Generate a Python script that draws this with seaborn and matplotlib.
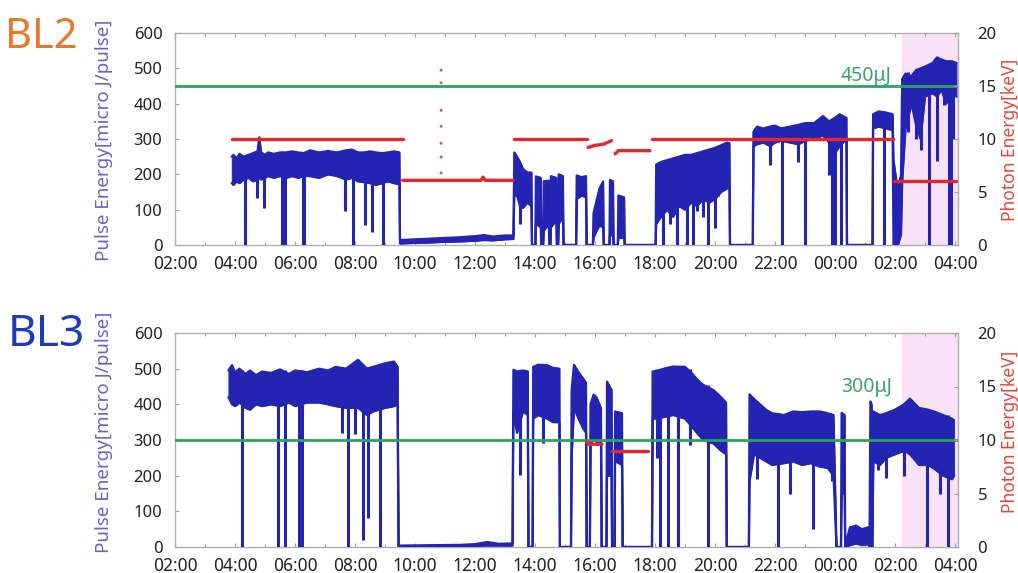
import numpy as np
import pandas as pd
import matplotlib
matplotlib.use("Agg")
import matplotlib.pyplot as plt
from matplotlib.ticker import MultipleLocator
import seaborn as sns

# ---------------- data ----------------
hour_ticks = [2, 4, 6, 8, 10, 12, 14, 16, 18, 20, 22, 24, 26, 28]
hour_labels = ["02:00", "04:00", "06:00", "08:00", "10:00", "12:00", "14:00",
               "16:00", "18:00", "20:00", "22:00", "00:00", "02:00", "04:00"]
pulse_ticks = [0, 100, 200, 300, 400, 500, 600]
photon_ticks = [0, 5, 10, 15, 20]

panel_names = ["BL2", "BL3"]
target_uj = [450, 300]
target_labels = ["450μJ", "300μJ"]
highlight_start = 26.22  # hours since 00:00 of day 1 (~02:13 next day)

# BL2 pulse energy: time [h], lower / upper edge of the noisy trace [uJ]
bl2_t = [3.89, 3.95, 4.05, 4.15, 4.28, 4.45, 4.60, 4.75, 4.81, 4.87, 5.00, 5.10, 5.30, 5.50, 5.70, 5.90,
         6.10, 6.30, 6.50, 6.80, 7.10, 7.40, 7.70, 7.90, 8.10, 8.30, 8.50, 8.70, 8.90, 9.10, 9.30, 9.48,
         9.50, 10.0, 10.5, 11.0, 11.5, 12.0, 12.3, 12.6, 13.0, 13.28,
         13.31, 13.40, 13.50, 13.60, 13.75, 13.88, 13.90, 14.01, 14.03, 14.19, 14.21, 14.27, 14.29, 14.46,
         14.48, 14.51, 14.53, 14.71, 14.73, 14.77, 14.79, 14.93, 14.95, 15.37, 15.39, 15.55, 15.70, 15.72,
         15.93, 15.95, 16.05, 16.15, 16.27, 16.29, 16.48, 16.50, 16.60, 16.62, 16.76, 16.78, 16.97, 16.99,
         18.02, 18.04, 18.20, 18.40, 18.60, 18.80, 19.00, 19.20, 19.40, 19.60, 19.80, 20.00, 20.20, 20.40,
         20.48, 20.50,
         21.26, 21.28, 21.40, 21.60, 21.84, 22.00, 22.20, 22.50, 22.78, 23.00, 23.30, 23.60, 23.80, 24.00,
         24.15, 24.38, 24.40,
         25.25, 25.27, 25.45, 25.70, 25.92, 25.95, 26.10, 26.20, 26.24, 26.35, 26.55, 26.70, 26.85, 27.00,
         27.25, 27.40, 27.55, 27.70, 27.90, 28.05]
bl2_lo = [175, 170, 180, 175, 185, 190, 180, 185, 190, 185, 190, 195, 190, 195, 190, 195,
          190, 195, 195, 190, 200, 195, 185, 190, 180, 178, 175, 170, 175, 180, 175, 172,
          4, 6, 7, 9, 10, 12, 14, 13, 16, 17,
          140, 140, 110, 105, 120, 110, 0, 0, 60, 50, 0, 0, 40, 60,
          0, 0, 50, 70, 0, 0, 60, 80, 0, 0, 130, 140, 135, 0,
          0, 20, 40, 55, 50, 0, 0, 30, 25, 0, 0, 20, 20, 0,
          0, 60, 80, 100, 80, 110, 100, 120, 110, 130, 120, 130, 150, 160,
          170, 0,
          0, 280, 285, 290, 280, 290, 295, 290, 285, 295, 300, 310, 290, 260,
          280, 300, 0,
          0, 330, 335, 330, 325, 0, 0, 30, 180, 330, 400, 340, 300, 420,
          430, 420, 440, 400, 430, 420]
bl2_hi = [250, 255, 245, 258, 250, 255, 260, 265, 305, 262, 255, 262, 258, 262, 262, 265,
          262, 260, 268, 262, 266, 262, 268, 270, 262, 262, 265, 262, 260, 262, 265, 262,
          14, 16, 18, 20, 22, 25, 28, 24, 27, 27,
          262, 250, 235, 215, 205, 205, 0, 0, 194, 190, 0, 0, 180, 182,
          0, 0, 195, 190, 0, 0, 200, 195, 0, 0, 197, 192, 195, 0,
          0, 90, 125, 160, 180, 0, 0, 184, 180, 0, 0, 140, 135, 0,
          0, 228, 235, 240, 245, 250, 255, 255, 260, 265, 270, 275, 282, 290,
          288, 0,
          0, 320, 335, 330, 335, 338, 330, 335, 340, 345, 345, 365, 350, 360,
          370, 360, 0,
          0, 370, 378, 375, 370, 240, 150, 200, 470, 485, 478, 495, 500, 505,
          515, 531, 525, 520, 520, 515]
# BL2 short drops of the trace: time, bottom, top [uJ]
bl2_dip_t = [4.33, 4.72, 4.98, 5.56, 5.60, 5.65, 6.28, 6.31, 7.67, 7.92, 8.33, 8.56, 8.94, 13.50,
             18.28, 18.50, 18.72, 19.05, 19.28, 19.40, 19.60, 19.78, 20.00, 20.10, 21.84, 22.22,
             22.78, 23.00, 23.80, 23.89, 24.00, 24.20, 25.62, 26.30, 26.45, 26.70, 26.85, 27.12,
             27.40, 27.65, 27.80, 27.85, 27.95]
bl2_dip_lo = [0, 133, 105, 0, 0, 0, 0, 0, 95, 0, 57, 38, 0, 60,
              0, 60, 0, 0, 0, 95, 80, 0, 48, 140, 227, 0,
              235, 0, 199, 0, 0, 0, 0, 331, 320, 300, 270, 0,
              237, 397, 0, 0, 300]
bl2_dip_hi = [250, 240, 240, 260, 260, 258, 260, 258, 250, 270, 250, 250, 262, 230,
              235, 240, 245, 255, 255, 255, 265, 265, 270, 275, 330, 335,
              340, 345, 350, 350, 360, 370, 375, 480, 490, 495, 500, 505,
              530, 520, 520, 520, 515]
# BL2 photon energy [keV], split in segments
bl2_red_seg = [0, 0, 1, 1, 1, 1, 1, 2, 2, 3, 3, 3, 3, 4, 4, 4, 5, 5, 6, 6]
bl2_red_t = [3.89, 9.59, 9.59, 12.20, 12.27, 12.34, 13.27, 13.30, 15.73, 15.77, 16.00, 16.28, 16.55,
             16.67, 16.78, 17.83, 17.89, 25.93, 25.97, 28.05]
bl2_red_kev = [10, 10, 6.1, 6.1, 6.4, 6.1, 6.1, 10, 10, 9.2, 9.4, 9.5, 9.85,
               8.6, 8.9, 8.9, 10, 10, 6.05, 6.05]
bl2_dot_t = [10.87, 10.87, 10.87, 10.87, 10.87, 10.87, 10.87]
bl2_dot_kev = [16.5, 15.3, 12.7, 11.2, 9.6, 8.3, 6.8]

# BL3 pulse energy
bl3_t = [3.78, 3.90, 4.00, 4.15, 4.35, 4.50, 4.70, 4.90, 5.20, 5.50, 5.80, 6.00, 6.40, 6.80, 7.10, 7.35,
         7.70, 8.10, 8.40, 8.60, 9.00, 9.30, 9.42,
         9.45, 10.5, 11.5, 12.0, 12.4, 12.8, 13.25,
         13.28, 13.40, 13.60, 13.76, 13.78, 13.92, 13.94, 14.10, 14.40, 14.60, 14.81, 14.83, 15.20, 15.22,
         15.30, 15.45, 15.60, 15.70, 15.72, 15.83, 15.85, 15.95, 16.05, 16.20, 16.22, 16.38, 16.40, 16.55,
         16.57, 16.65, 16.67, 16.90, 16.92,
         17.90, 17.92, 18.10, 18.30, 18.60, 19.00, 19.20, 19.40, 19.60, 19.95, 20.20, 20.37, 20.39,
         21.13, 21.15, 21.30, 21.50, 21.70, 21.90, 22.30, 22.60, 22.90, 23.20, 23.50, 23.75, 23.95, 24.05,
         24.20, 24.22, 24.32, 24.34, 24.50, 24.70, 24.90, 25.10, 25.15, 25.18, 25.22, 25.24,
         25.28, 25.50, 25.70, 26.00, 26.30, 26.50, 26.80, 27.10, 27.30, 27.60, 27.90, 27.97]
bl3_lo = [420, 400, 395, 405, 390, 385, 400, 395, 400, 395, 405, 395, 405, 405, 400, 395,
          390, 390, 370, 380, 390, 395, 400,
          0, 1, 2, 3, 4, 4, 4,
          380, 320, 380, 370, 0, 0, 360, 370, 360, 350, 350, 0, 0, 250,
          390, 360, 333, 320, 0, 0, 290, 300, 295, 287, 0, 0, 200, 200,
          0, 0, 241, 230, 0,
          0, 360, 360, 365, 370, 360, 340, 320, 300, 290, 270, 260, 0,
          0, 184, 260, 250, 240, 230, 235, 240, 230, 235, 225, 222, 200, 0,
          0, 150, 150, 0, 5, 10, 5, 8, 0, 0, 0, 0,
          240, 230, 250, 260, 270, 260, 230, 230, 220, 200, 190, 200]
bl3_hi = [495, 510, 490, 500, 485, 495, 482, 492, 488, 498, 485, 495, 490, 500, 495, 505,
          500, 525, 500, 505, 515, 520, 505,
          4, 5, 6, 8, 14, 9, 10,
          497, 492, 495, 492, 0, 0, 505, 511, 510, 502, 500, 0, 0, 440,
          511, 490, 473, 460, 0, 0, 400, 427, 420, 389, 0, 0, 464, 440,
          0, 0, 380, 375, 0,
          0, 492, 495, 500, 506, 505, 490, 470, 455, 440, 420, 405, 0,
          0, 428, 415, 400, 385, 375, 370, 380, 378, 380, 380, 375, 370, 0,
          0, 376, 370, 5, 55, 60, 50, 55, 5, 408, 400, 0,
          380, 370, 375, 385, 400, 416, 390, 385, 380, 370, 360, 355]
bl3_dip_t = [4.22, 5.44, 5.67, 6.12, 6.17, 6.22, 7.56, 7.78, 8.00, 8.26, 8.44, 8.83, 13.50, 14.28,
             18.06, 18.17, 18.44, 18.78, 19.17, 19.78, 21.40, 22.10, 22.50, 23.28, 23.90, 25.45,
             25.70, 26.30, 27.06, 27.50, 27.78]
bl3_dip_lo = [0, 0, 0, 0, 0, 0, 321, 0, 317, 20, 80, 0, 202, 292,
              249, 0, 0, 0, 287, 0, 190, 0, 150, 50, 184, 217,
              194, 200, 0, 150, 0]
bl3_dip_hi = [495, 495, 495, 495, 495, 495, 505, 505, 508, 510, 505, 505, 495, 505,
              495, 495, 500, 506, 500, 455, 410, 375, 375, 378, 370, 370,
              375, 400, 385, 375, 370]
bl3_red_seg = [0, 0, 0, 1, 1]
bl3_red_t = [15.73, 15.78, 16.23, 16.57, 17.77]
bl3_red_kev = [9.85, 9.6, 9.6, 9.0, 9.0]
bl3_dot_t = []
bl3_dot_kev = []

# ---------------- style ----------------
BLUE = "#2424b2"
RED = "#e8262a"
GREEN = "#2aa55a"
PINK = "#f9e2f7"
SPINE = "#b0b0b0"
TICK_TXT = "#222222"

sns.set_theme(style="white")
plt.rcParams["font.family"] = ["Noto Sans", "DejaVu Sans"]

W, H = 1018, 573
fig = plt.figure(figsize=(W / 100, H / 100), dpi=100)

XMIN, XMAX = 2.0, 28.1
panels = [
    dict(box=(175, 33, 958, 245), t=bl2_t, lo=bl2_lo, hi=bl2_hi,
         dt=bl2_dip_t, dlo=bl2_dip_lo, dhi=bl2_dip_hi,
         rs=bl2_red_seg, rt=bl2_red_t, rk=bl2_red_kev, pt=bl2_dot_t, pk=bl2_dot_kev,
         name_xy=(5, 37), name_color="#e8782a", name_size=30,
         lab_y=140, txt_y=478),
    dict(box=(175, 333, 958, 547), t=bl3_t, lo=bl3_lo, hi=bl3_hi,
         dt=bl3_dip_t, dlo=bl3_dip_lo, dhi=bl3_dip_hi,
         rs=bl3_red_seg, rt=bl3_red_t, rk=bl3_red_kev, pt=bl3_dot_t, pk=bl3_dot_kev,
         name_xy=(8, 335), name_color="#2038c0", name_size=32,
         lab_y=432, txt_y=448),
]

for i, p in enumerate(panels):
    x0, y0, x1, y1 = p["box"]
    ax = fig.add_axes([x0 / W, 1 - y1 / H, (x1 - x0) / W, (y1 - y0) / H])
    ax.set_xlim(XMIN, XMAX)
    ax.set_ylim(0, 600)
    ax.axvspan(highlight_start, XMAX, color=PINK, lw=0, zorder=0)

    band = pd.DataFrame({"t": p["t"], "lo": p["lo"], "hi": p["hi"]})
    ax.fill_between(band["t"], band["lo"], band["hi"], facecolor=BLUE,
                    edgecolor=BLUE, lw=0.6, zorder=2)
    sns.lineplot(data=band, x="t", y="lo", ax=ax, color=BLUE, lw=1.6,
                 sort=False, estimator=None, zorder=3)
    sns.lineplot(data=band, x="t", y="hi", ax=ax, color=BLUE, lw=1.6,
                 sort=False, estimator=None, zorder=3)
    ax.vlines(p["dt"], p["dlo"], p["dhi"], color=BLUE, lw=2.2, zorder=3)

    ax.axhline(target_uj[i], color=GREEN, lw=2.0, zorder=5)
    ax.text(25.9, p["txt_y"], target_labels[i], color="#3aa865", fontsize=14,
            ha="right", va="center", zorder=6)

    ax.set_xlabel("")
    ax.set_ylabel("")
    ax.set_xticks(hour_ticks)
    ax.set_xticklabels(hour_labels)
    ax.xaxis.set_minor_locator(MultipleLocator(1))
    ax.set_yticks(pulse_ticks)
    ax.tick_params(axis="x", which="both", direction="in", top=True, bottom=True,
                   color="#a0a0a0", length=3, width=0.8, labelsize=12.5,
                   labelcolor=TICK_TXT, pad=7)
    ax.tick_params(axis="x", which="minor", length=2)
    ax.tick_params(axis="y", direction="in", left=True, color="#a0a0a0", length=3,
                   width=0.8, labelsize=12, labelcolor=TICK_TXT, pad=9)
    for s in ax.spines.values():
        s.set_color(SPINE)
        s.set_linewidth(1.0)

    ax2 = ax.twinx()
    ax2.set_ylim(0, 20)
    ax2.set_yticks(photon_ticks)
    red = pd.DataFrame({"seg": p["rs"], "t": p["rt"], "kev": p["rk"]})
    sns.lineplot(data=red, x="t", y="kev", units="seg", estimator=None, sort=False,
                 color=RED, lw=2.4, ax=ax2)
    if len(p["pt"]):
        dots = pd.DataFrame({"t": p["pt"], "kev": p["pk"]})
        sns.scatterplot(data=dots, x="t", y="kev", ax=ax2, color="#e85a5a", s=5,
                        edgecolor="none")
    ax2.set_xlim(XMIN, XMAX)
    ax2.set_xlabel("")
    ax2.set_ylabel("")
    ax2.tick_params(axis="y", direction="in", right=True, color="#a0a0a0", length=3,
                    width=0.8, labelsize=12, labelcolor=TICK_TXT, pad=14)
    for s in ax2.spines.values():
        s.set_visible(False)

    fig.text(p["name_xy"][0] / W, 1 - p["name_xy"][1] / H, panel_names[i],
             color=p["name_color"], fontsize=p["name_size"], ha="left", va="center")
    fig.text(104 / W, 1 - p["lab_y"] / H, "Pulse Energy[micro J/pulse]",
             color="#6464cc", fontsize=13.5, rotation=90, ha="center", va="center")
    fig.text(1010 / W, 1 - p["lab_y"] / H, "Photon Energy[keV]",
             color="#e8453c", fontsize=12.5, rotation=90, ha="center", va="center")

fig.savefig("out.png", dpi=100)
